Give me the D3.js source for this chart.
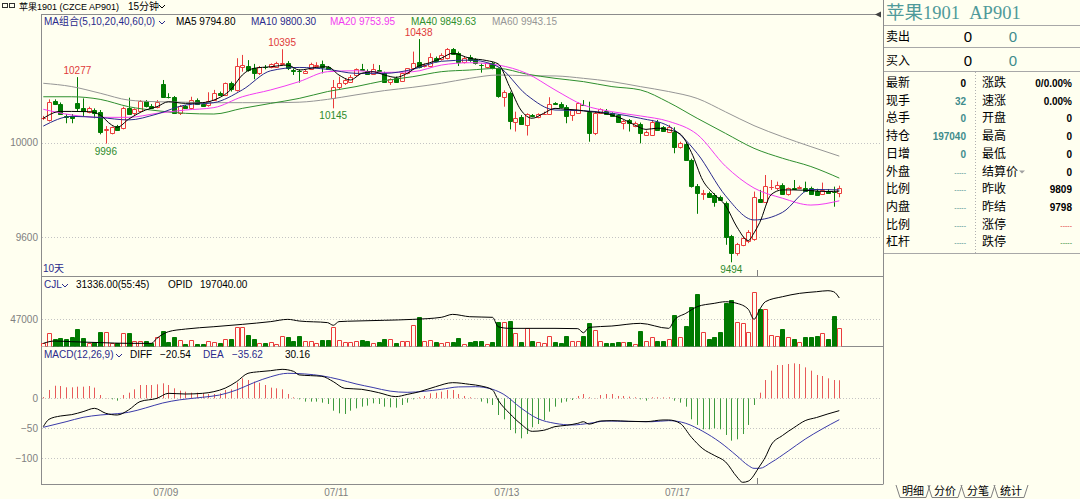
<!DOCTYPE html>
<html>
<head>
<meta charset="utf-8">
<script src="https://cdn.jsdelivr.net/npm/d3@7/dist/d3.min.js"></script>
<style>
  body { margin: 0; background: #fffff0; overflow: hidden; }
  svg { display: block; }
  text { font-family: "Liberation Sans", "Noto Sans CJK SC", sans-serif; font-size: 10px; }
</style>
</head>
<body>
<script>
// ---------- 15 min bars, AP901 ----------
const open = [10103,10096,10178,10163,10113,10113,10166,10148,10131,10138,
  10131,10052,10042,10070,10061,10148,10124,10135,10176,10155,
  10149,10247,10194,10192,10124,10155,10145,10180,10163,10159,
  10180,10211,10202,10254,10223,10321,10324,10314,10293,10321,
  10318,10321,10333,10338,10307,10304,10296,10312,10326,10333,
  10321,10187,10234,10251,10258,10286,10310,10303,10290,10307,
  10293,10255,10272,10262,10293,10314,10342,10326,10324,10357,
  10352,10357,10395,10380,10342,10364,10352,10330,10321,10335,
  10314,10192,10209,10089,10110,10075,10115,10107,10121,10121,
  10166,10163,10152,10117,10127,10160,10131,10042,10124,10135,
  10124,10117,10082,10096,10070,10079,10032,10032,10089,10065,
  10047,10047,9980,9994,9927,9817,9784,9789,9779,9772,
  9746,9606,9532,9568,9582,9591,9761,9751,9811,9807,
  9821,9783,9808,9809,9807,9807,9797,9783,9797,9793,
  9786];
const high = [10113,10183,10183,10170,10121,10121,10277,10187,10152,10145,
  10138,10070,10068,10075,10152,10190,10145,10180,10180,10163,
  10180,10265,10209,10197,10159,10159,10194,10187,10166,10213,
  10223,10216,10254,10258,10357,10371,10349,10333,10324,10328,
  10335,10342,10395,10345,10314,10310,10307,10338,10340,10347,
  10324,10265,10279,10272,10286,10314,10333,10310,10333,10328,
  10300,10272,10279,10296,10314,10385,10438,10335,10378,10364,
  10378,10400,10400,10385,10364,10371,10357,10335,10338,10342,
  10318,10221,10216,10131,10117,10124,10121,10124,10131,10192,
  10171,10171,10159,10140,10170,10180,10173,10131,10145,10142,
  10128,10121,10096,10100,10089,10085,10051,10096,10096,10070,
  10075,10065,10004,10000,9932,9825,9800,9793,9786,9776,
  9751,9610,9576,9603,9630,9793,9800,9863,9842,9835,
  9828,9810,9842,9818,9835,9814,9805,9831,9804,9814,
  9818];
const low = [10096,10089,10159,10117,10082,10082,10131,10110,10124,10103,
  10035,9996,10035,10051,10056,10117,10117,10131,10149,10145,
  10145,10190,10187,10121,10117,10145,10142,10159,10152,10152,
  10176,10197,10197,10216,10216,10300,10300,10268,10286,10310,
  10314,10318,10328,10307,10286,10254,10293,10307,10321,10293,
  10307,10145,10225,10244,10254,10282,10303,10286,10286,10300,
  10254,10244,10254,10258,10289,10310,10314,10318,10318,10340,
  10347,10352,10371,10324,10335,10342,10330,10296,10314,10310,
  10190,10152,10056,10047,10075,10030,10107,10103,10117,10117,
  10159,10149,10082,10092,10124,10155,10004,10032,10121,10117,
  10110,10085,10056,10047,10065,9997,10028,10028,10051,10047,
  10042,9955,9975,9925,9810,9699,9758,9770,9729,9755,
  9568,9494,9522,9562,9575,9585,9745,9745,9800,9800,
  9779,9776,9800,9804,9793,9779,9775,9779,9786,9729,
  9769];
const close = [10105,10173,10163,10121,10110,10103,10145,10135,10145,10127,
  10047,10056,10065,10054,10145,10121,10142,10178,10155,10148,
  10171,10194,10192,10127,10155,10148,10180,10163,10156,10176,
  10209,10202,10251,10225,10324,10328,10307,10293,10321,10319,
  10333,10335,10338,10314,10305,10302,10304,10333,10330,10321,
  10310,10237,10254,10265,10279,10310,10308,10289,10310,10305,
  10258,10269,10258,10293,10314,10338,10321,10328,10364,10347,
  10371,10395,10375,10342,10357,10349,10335,10328,10335,10314,
  10197,10216,10093,10103,10079,10121,10113,10121,10123,10163,
  10164,10152,10113,10138,10166,10158,10042,10127,10141,10121,
  10113,10089,10093,10085,10085,10039,10047,10089,10054,10051,
  10065,9983,9997,9927,9817,9786,9787,9772,9751,9758,
  9603,9532,9572,9596,9624,9769,9751,9817,9814,9821,
  9783,9807,9806,9811,9797,9783,9779,9800,9789,9791,
  9809];
const volume = [5800,22000,11600,13300,11600,16200,29600,13300,5800,7500,
  23800,23800,5800,4600,22000,22000,8700,9300,9300,5800,
  16200,26700,7500,15100,10400,3500,10400,3500,3500,8700,
  7500,5800,11600,12200,33600,32500,19100,12200,4600,4600,
  7000,3500,17400,15100,8700,17400,8700,8700,5800,10400,
  10400,33600,10400,7500,7500,8700,10400,8700,5800,7500,
  12200,12200,4600,8700,9300,36500,49900,9300,10400,7500,
  4600,7500,7500,13300,3500,7500,9300,9300,3500,7500,
  41800,41800,43500,22000,7500,30700,8700,6400,4600,18000,
  7500,4600,17400,8700,8700,17400,39400,27800,8700,4600,
  4600,7500,6400,6400,3500,26100,9300,15100,8700,9300,
  11600,53900,15100,34800,67300,90500,24900,12200,15100,23800,
  75400,80000,41800,39400,23800,94500,63800,63800,19100,18000,
  29000,15100,11600,6400,15100,16200,17400,22000,12200,52200,
  31336];

// moving averages at sample bars
const maIdx = [0,5,10,15,20,25,30,35,40,45,50,55,60,65,70,75,80,85,90,95,100,105,110,115,120,125,130,135,140];
const ma10 = [10070,10111,10106,10096,10121,10159,10169,10223,10304,10318,10310,10293,10293,10310,10344,10349,10321,10202,10138,10135,10124,10103,10070,9955,9775,9673,9705,9802,9800];
const ma20 = [10141,10117,10107,10107,10124,10138,10148,10194,10223,10258,10300,10304,10297,10300,10328,10338,10328,10293,10223,10159,10131,10113,10090,10035,9900,9808,9765,9736,9754];
const ma40 = [10194,10194,10183,10152,10135,10124,10121,10145,10166,10187,10216,10237,10262,10279,10300,10307,10314,10290,10272,10258,10237,10223,10170,10103,10039,9976,9934,9899,9850];
const ma60 = [10251,10237,10209,10180,10173,10171,10169,10169,10169,10171,10183,10202,10220,10234,10251,10272,10286,10283,10282,10272,10258,10237,10216,10187,10130,10072,10025,9983,9943];
const ma5Idx = [0,3,5,8,10,12,13,15,18,20,22,25,28,30,33,35,37,40,43,45,48,50,52,54,56,58,60,62,64,66,68,70,72,75,78,80,82,84,86,88,90,92,94,96,98,100,102,104,106,108,110,112,114,116,118,120,122,124,125,126,128,130,132,135,138,140];
const ma5 = [10103,10132,10132,10131,10117,10075,10065,10099,10138,10152,10173,10166,10169,10180,10225,10286,10314,10321,10328,10307,10318,10321,10286,10265,10293,10300,10286,10276,10293,10324,10338,10357,10378,10357,10347,10333,10237,10138,10103,10124,10145,10141,10138,10131,10127,10117,10099,10075,10056,10061,10054,10037,9958,9840,9782,9734,9643,9586,9618,9662,9780,9800,9800,9797,9793,9795];

// open interest (OPID)
const oiIdx = [0,2,5,10,15,19,20,22,25,30,35,40,43,45,50,51,52,55,60,65,70,72,75,79,80,82,90,94,95,96,100,105,110,111,113,115,118,120,122,124,125,126,127,130,133,136,138,139,140];
const oi = [152600,154900,154200,153300,152600,152600,157600,164000,166600,168900,171200,173900,176100,174500,172900,170300,173900,174500,175200,176100,178100,181000,178700,178100,168900,167300,167300,167000,163000,168300,169600,172200,167300,175500,182000,188500,191800,193400,191800,185900,176100,185900,193400,198300,201600,203200,204200,203200,197040];

// MACD(12,26,9)
const macd = [2,13.9,21,20.5,18.3,18.3,19.4,19.4,20.5,17.8,
  5.5,0.5,-1.7,-3.9,5.5,9.4,15,22.2,22.2,22.2,
  23.3,25,22.2,16.7,12.8,11.1,9.4,9.4,8.3,7.2,
  7.2,8.3,13.9,15,26.1,33.3,30.5,27.8,26.1,22.2,
  17.8,16.7,15,7.2,1.7,-1.7,-5.5,-5.5,-5.5,-7.2,
  -9.4,-20.6,-25,-26.1,-20.6,-16.7,-13.9,-12.2,-8.3,-9.4,
  -13.9,-15,-15.6,-11.1,-7.2,-1.7,1.7,3.9,8.3,9.4,
  11.1,13.9,13.9,7.2,3.9,1.7,0.5,-5.5,-8.3,-11.1,
  -27.8,-35,-52.8,-58.3,-66.7,-59.5,-48.3,-42.8,-36.1,-22.2,
  -13.9,-7.2,-5.5,-2.8,3.9,7.2,1.7,0.5,5.5,7.2,
  7.2,3.9,3.9,2.8,1.7,-1.7,-3.9,1.7,1.7,1.5,
  1.7,-3.9,-7.2,-13.9,-35,-44.4,-51.7,-51.7,-50,-51.7,
  -61.1,-70.6,-68.3,-59.5,-44.4,-11.1,9.4,30.5,46.1,55.5,
  55.5,57.2,58.3,57.2,51.6,46.1,38.9,37.2,33.3,30.5,
  30.16];
const diffIdx = [0,1,3,5,7,9,11,13,15,17,20,22,25,28,30,32,34,36,38,40,42,44,45,47,49,51,53,56,59,62,64,66,69,72,75,77,79,80,82,84,86,88,90,92,94,95,96,98,100,103,106,109,110,112,114,116,118,120,122,123,124,126,127,128,130,132,134,136,138,140];
const diff = [-47.2,-35,-29.5,-27.2,-22.2,-16.7,-25,-27.8,-19.4,-5.5,0,8.3,7.2,8.3,11.1,17,27.8,41.7,44.4,46.1,48.3,45,39,37.8,36.7,27.8,16.7,15,9.4,2.8,6.5,10.6,19.4,26.1,23.3,20.5,14,-3,-25,-42.8,-55,-53.3,-47.2,-45,-41.7,-39,-43,-37.8,-37.2,-38.3,-38.9,-36.1,-36.1,-41.7,-65,-84,-95,-106,-131,-140,-138,-113,-98,-78,-62,-49,-37.2,-32,-26,-20.54];
const deaIdx = [0,4,7,10,13,15,18,21,24,28,31,34,37,40,43,46,49,52,55,58,61,64,67,70,73,76,79,81,84,87,90,93,96,99,103,107,110,113,116,119,122,124,125,126,128,131,134,137,140];
const dea = [-48.3,-39,-31.7,-27.8,-25.6,-23.3,-16,-7.8,-2.5,1.7,5.5,13.9,26,36,41.7,40.6,37.5,31.5,24,18,12,10,11.7,15,19,19.4,15,6.5,-16,-34,-41.7,-44.4,-41.7,-37.8,-38.5,-39,-37.2,-41.7,-55,-73,-96,-112,-116.7,-116.7,-107,-88,-68,-51,-35.62];

// ticks and labels
const priceTicks = [10000, 9600];
const volTicks = [47000];
const macdTicks = [0, -50, -100];
const dateIdx = [21, 51, 81, 111];
const dateLabels = ["07/09", "07/11", "07/13", "07/17"];
const markIdx = [6, 11, 42, 51, 66, 121];
const markHigh = [true, false, true, false, true, false];
const maNames = ["MA5", "MA10", "MA20", "MA40", "MA60"];
const maLast = ["9794.80", "9800.30", "9753.95", "9849.63", "9943.15"];

// quote panel
const quoteL = ["最新","现手","总手","持仓","日增","外盘","比例","内盘","比例","杠杆"];
const quoteLV = ["0","32","0","197040","0","-----","-----","-----","-----","-----"];
const quoteR = ["涨跌","速涨","开盘","最高","最低","结算价","昨收","昨结","涨停","跌停"];
const quoteRV = ["0/0.00%","0.00%","0","0","0","0","9809","9798","-----","-----"];
const tabs = ["明细","分价","分笔","统计"];

/* ------------------------------------------------ */

const W = 1080, H = 499;
const BG = "#fffff0", RED = "#ea3c3c", GREEN = "#007a00", GRID = "#c4c4c4",
      AXIS = "#808080", NAVY = "#2a2a8c", TEAL = "#3f8c8c";
const maColors = ["#000000", NAVY, "#f23cf2", "#2f8f2f", "#969696"];

const svg = d3.select("body").append("svg").attr("width", W).attr("height", H);
svg.append("rect").attr("width", W).attr("height", H).attr("fill", BG);

const N = close.length;
const x = d3.scaleLinear().domain([0, N - 1]).range([43.3, 839.3]);
const px = i => Math.round(x(i)) + 0.5;
const yP = d3.scaleLinear().domain([9436, 10544]).range([276, 14]);
const yV = d3.scaleLinear().domain([0, 121900]).range([346, 276]);
const yOI = d3.scaleLinear().domain([150000, 218600]).range([346, 276]);
const yM = d3.scaleLinear().domain([-142.8, 87.2]).range([484, 346]);

// grid + y axes
function grid(scale, vals) {
  svg.append("g").selectAll("line").data(vals).join("line")
    .attr("x1", 42).attr("x2", 880)
    .attr("y1", d => Math.round(scale(d)) + 0.5)
    .attr("y2", d => Math.round(scale(d)) + 0.5)
    .attr("stroke", GRID).attr("stroke-dasharray", "1,2");
}
function yAxis(scale, vals) {
  const g = svg.append("g").attr("transform", "translate(41,0)")
    .call(d3.axisLeft(scale).tickValues(vals).tickSize(0).tickPadding(3).tickFormat(d3.format("d")));
  g.select(".domain").remove();
  g.attr("font-family", null).attr("font-size", null);
  g.selectAll("text").attr("fill", AXIS);
}
grid(yP, priceTicks); yAxis(yP, priceTicks);
grid(yV, volTicks); yAxis(yV, volTicks);
grid(yM, macdTicks); yAxis(yM, macdTicks);

// frame
const frame = svg.append("g").attr("stroke", "#8c8c8c").attr("fill", "none");
frame.append("path").attr("d", "M41.5,14V484.5");
frame.append("path").attr("d", "M41,14.5H878");
frame.append("path").attr("d", "M41,276.5H883");
frame.append("path").attr("d", "M41,346.5H883");
frame.append("path").attr("d", "M41,484.5H883");
svg.append("path").attr("d", "M875,14.5L881,11.5V17.5Z").attr("fill", "#404040");

// date axis
const gx = svg.append("g").attr("transform", "translate(2.5,484)")
  .call(d3.axisBottom(x).tickValues(dateIdx).tickSize(0).tickPadding(5)
    .tickFormat((d, k) => dateLabels[k]));
gx.select(".domain").remove();
gx.attr("font-family", null).attr("font-size", null);
gx.selectAll("text").attr("fill", AXIS).attr("dy", "0.71em");

// day marker
svg.append("path").attr("d", `M${px(125.5)},270V276M${px(125.5)},478V484`).attr("stroke", "#808080");

// candles
const bars = d3.range(N);
const isUp = i => close[i] >= open[i];
const cg = svg.append("g");
cg.selectAll("line").data(bars).join("line")
  .attr("x1", px).attr("x2", px)
  .attr("y1", i => yP(high[i])).attr("y2", i => yP(low[i]))
  .attr("stroke", i => isUp(i) ? RED : GREEN);
cg.selectAll("path").data(bars).join("path")
  .attr("d", i => {
    const t = Math.round(yP(Math.max(open[i], close[i]))) + 0.5;
    const b = Math.round(yP(Math.min(open[i], close[i]))) + 0.5;
    return `M${px(i) - 2},${t}h4V${b}h-4Z`;
  })
  .attr("fill", i => isUp(i) ? BG : GREEN)
  .attr("stroke", i => isUp(i) ? RED : GREEN);

// moving averages
function curve(idx, vals, scale, color) {
  svg.append("path")
    .datum(idx.map((d, k) => [d, vals[k]]))
    .attr("fill", "none").attr("stroke", color).attr("stroke-width", 1)
    .attr("d", d3.line().x(d => x(d[0])).y(d => scale(d[1])).curve(d3.curveMonotoneX));
}
curve(maIdx, ma60, yP, maColors[4]);
curve(maIdx, ma40, yP, maColors[3]);
curve(maIdx, ma20, yP, maColors[2]);
curve(maIdx, ma10, yP, maColors[1]);
curve(ma5Idx, ma5, yP, maColors[0]);

// high / low marks
svg.append("g").selectAll("text").data(markIdx).join("text")
  .attr("x", i => x(i)).attr("text-anchor", "middle")
  .attr("y", (i, k) => markHigh[k] ? yP(high[i]) - 3 : yP(low[i]) + 11)
  .attr("fill", (i, k) => markHigh[k] ? "#e03a3a" : "#2d8a2d")
  .text((i, k) => markHigh[k] ? high[i] : low[i]);

// volume
const vg = svg.append("g");
vg.selectAll("path").data(bars).join("path")
  .attr("d", i => {
    const t = Math.round(yV(volume[i])) + 0.5;
    return `M${px(i) - 2},346.5V${t}h4V346.5`;
  })
  .attr("fill", i => isUp(i) ? BG : GREEN)
  .attr("stroke", i => isUp(i) ? RED : GREEN);
curve(oiIdx, oi, yOI, "#000");

// MACD
svg.append("g").selectAll("line").data(bars).join("line")
  .attr("x1", px).attr("x2", px)
  .attr("y1", yM(0)).attr("y2", i => yM(macd[i]))
  .attr("stroke", i => macd[i] >= 0 ? "#e85a5a" : "#3e9a3e");
curve(deaIdx, dea, yM, "#3a3aa8");
curve(diffIdx, diff, yM, "#000");

// legends
function txt(xp, yp, s, color, size) {
  return svg.append("text").attr("x", xp).attr("y", yp).attr("fill", color)
    .style("font-size", (size || 10) + "px").text(s);
}
function chevron(xp, yp, color) {
  svg.append("path").attr("d", `M${xp},${yp}l3,3l3,-3`).attr("fill", "none").attr("stroke", color);
}
// title bar
svg.append("rect").attr("x", 2.5).attr("y", 3.5).attr("width", 5).attr("height", 4).attr("fill", "none").attr("stroke", "#303030");
svg.append("rect").attr("x", 9.5).attr("y", 3.5).attr("width", 5).attr("height", 4).attr("fill", "none").attr("stroke", "#303030");
txt(19, 10, "苹果1901\u00a0(CZCE AP901)", "#000", 9);
txt(128, 10, "15分钟", "#000", 10);
chevron(159, 5, "#000");

txt(44, 25, "MA组合(5,10,20,40,60,0)", NAVY);
chevron(159, 21, NAVY);
const maX = [176, 251, 330, 411, 492];
maNames.forEach((n, k) => txt(maX[k], 25, n + " " + maLast[k], maColors[k]));

txt(43, 272, "10天", NAVY);

txt(44, 288, "CJL", NAVY);
chevron(62, 284, NAVY);
txt(76, 288, d3.format(".2f")(volume[N - 1]) + "(55:45)", "#000");
txt(168, 288, "OPID", "#000");
txt(200, 288, d3.format(".2f")(oi[oi.length - 1]), "#000");

txt(44, 358, "MACD(12,26,9)", NAVY);
chevron(116, 354, NAVY);
txt(130, 358, "DIFF", "#000");
txt(160, 358, d3.format(".2f")(diff[diff.length - 1]), "#000");
txt(203, 358, "DEA", NAVY);
txt(232, 358, d3.format(".2f")(dea[dea.length - 1]), NAVY);
txt(285, 358, d3.format(".2f")(macd[N - 1]), "#000");

// ---------- quote panel ----------
const qp = svg.append("g");
qp.append("path").attr("d", "M883.5,0V484.5").attr("stroke", "#8c8c8c");
qp.append("text").attr("x", 886).attr("y", 19).attr("fill", "#4f9a9a")
  .style("font-family", '"Liberation Serif","Noto Sans CJK SC",serif').style("font-size", "18.5px")
  .text("苹果1901\u00a0\u00a0AP901");
[25.5, 47.5, 71.5, 253.5].forEach(yy =>
  qp.append("path").attr("d", `M884,${yy}H1080`).attr("stroke", "#a8a8a8"));
txt(886, 41, "卖出", "#000", 12);
txt(886, 65, "买入", "#000", 12);
[["0", 968, "#000"], ["0", 1013, TEAL]].forEach(d => {
  txt(d[1], 42, d[0], d[2], 15).attr("text-anchor", "middle");
  txt(d[1], 66, d[0], d[2], 15).attr("text-anchor", "middle");
});
qp.append("path").attr("d", "M975.5,72V253").attr("stroke", "#b0b0b0").attr("stroke-dasharray", "1,2");
quoteL.forEach((s, k) => {
  const yy = 87 + k * 17.7;
  txt(886, yy, s, "#000", 12);
  const v = quoteLV[k];
  const dash = v === "-----";
  txt(966, dash ? yy - 1 : yy, v, k === 0 ? "#000" : TEAL, dash ? 7 : 10)
    .attr("text-anchor", "end").style("font-weight", dash ? "normal" : "bold");
});
quoteR.forEach((s, k) => {
  const yy = 87 + k * 17.7;
  txt(982, yy, s, "#000", 12);
  const v = quoteRV[k];
  const dash = v === "-----";
  const col = k === 8 ? "#e03030" : k === 9 ? "#2d8a2d" : "#000";
  txt(1072, dash ? yy - 1 : yy, v, col, dash ? 7 : 10)
    .attr("text-anchor", "end").style("font-weight", dash ? "normal" : "bold");
});
qp.append("path").attr("d", `M1019,${87 + 5 * 17.7 - 5}l3,3l3,-3Z`).attr("fill", "#a0a0a0");

// tabs
const tabX = [896, 928, 961, 994];
tabs.forEach((s, k) => {
  qp.append("path")
    .attr("d", `M${tabX[k]},485L${tabX[k] + 4},497.5H${tabX[k] + 30}L${tabX[k] + 34},485`)
    .attr("fill", "none").attr("stroke", "#808080");
  txt(tabX[k] + 17, 495, s, "#000", 11).attr("text-anchor", "middle");
});
</script>
</body>
</html>
